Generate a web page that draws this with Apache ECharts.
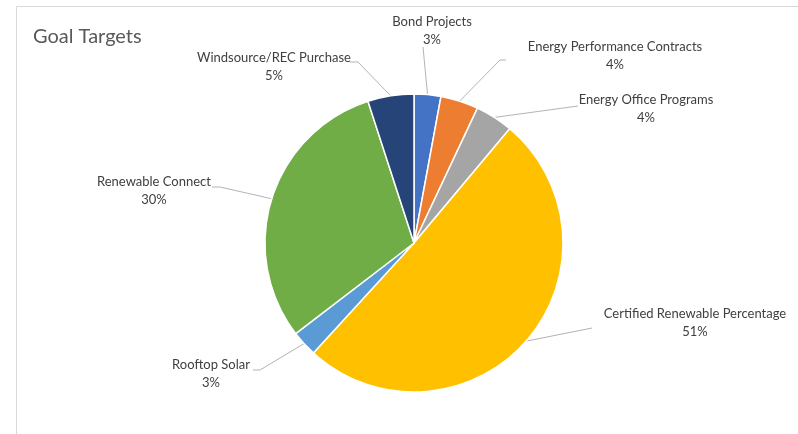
<!DOCTYPE html>
<html>
<head>
<meta charset="utf-8">
<script src="https://cdn.jsdelivr.net/npm/echarts@6/dist/echarts.min.js"></script>
<style>
html,body{margin:0;padding:0;background:#fff;}
#chart{width:798px;height:434px;}
</style>
</head>
<body>
<div id="chart"></div>
<script>
// ---- data ----
var categories = ['Bond Projects', 'Energy Performance Contracts', 'Energy Office Programs', 'Certified Renewable Percentage', 'Rooftop Solar', 'Renewable Connect', 'Windsource/REC Purchase'];
var values = [2.9, 4.1, 4.1, 50.7, 2.8, 30.4, 5.0];
var colors = ['#4472C4', '#ED7D31', '#A5A5A5', '#FFC000', '#5B9BD5', '#70AD47', '#264478'];

// ---- label layout (label centres and leader-line bends, pixels) ----
var labelSpots = [
  { x: 432, y: 31, bend: [[423, 47]] },
  { x: 615, y: 56, bend: [[500, 60], [506, 60]] },
  { x: 646, y: 109, bend: [[578, 106]] },
  { x: 695, y: 323, bend: [[592, 328]] },
  { x: 211, y: 374, bend: [[260, 370], [253, 370]] },
  { x: 154, y: 191, bend: [[220, 187], [212, 187]] },
  { x: 274, y: 67, bend: [[358, 62], [350, 62]] }
];

var chart = echarts.init(document.getElementById('chart'), null, { renderer: 'canvas' });

var pieData = categories.map(function (c, i) {
  return { name: c, value: values[i], itemStyle: { color: colors[i] } };
});

chart.setOption({
  animation: false,
  backgroundColor: '#ffffff',
  title: {
    text: 'Goal Targets',
    left: 28,
    top: 22,
    textStyle: { fontFamily: 'Lato', fontSize: 20, fontWeight: 'normal', color: '#595959' }
  },
  graphic: [{
    type: 'rect',
    shape: { x: 16.5, y: 6.5, width: 900, height: 600 },
    style: { fill: 'none', stroke: '#d9d9d9', lineWidth: 1 },
    silent: true
  }],
  series: [{
    type: 'pie',
    center: [414, 243],
    radius: 149,
    startAngle: 90,
    clockwise: true,
    avoidLabelOverlap: false,
    data: pieData,
    itemStyle: { borderColor: '#ffffff', borderWidth: 1.5 },
    label: {
      show: true,
      position: 'outside',
      fontFamily: 'Lato',
      fontSize: 13,
      color: '#404040',
      lineHeight: 18,
      align: 'center',
      formatter: function (p) { return p.name + '\n' + Math.round(p.percent) + '%'; }
    },
    labelLine: { show: true, length: 10, length2: 10, lineStyle: { color: '#b4b4b4', width: 1 } },
    labelLayout: function (p) {
      var s = labelSpots[p.dataIndex];
      var pts = [p.labelLinePoints[0]].concat(s.bend);
      return { x: s.x, y: s.y, align: 'center', verticalAlign: 'middle', labelLinePoints: pts };
    }
  }]
});
</script>
</body>
</html>
